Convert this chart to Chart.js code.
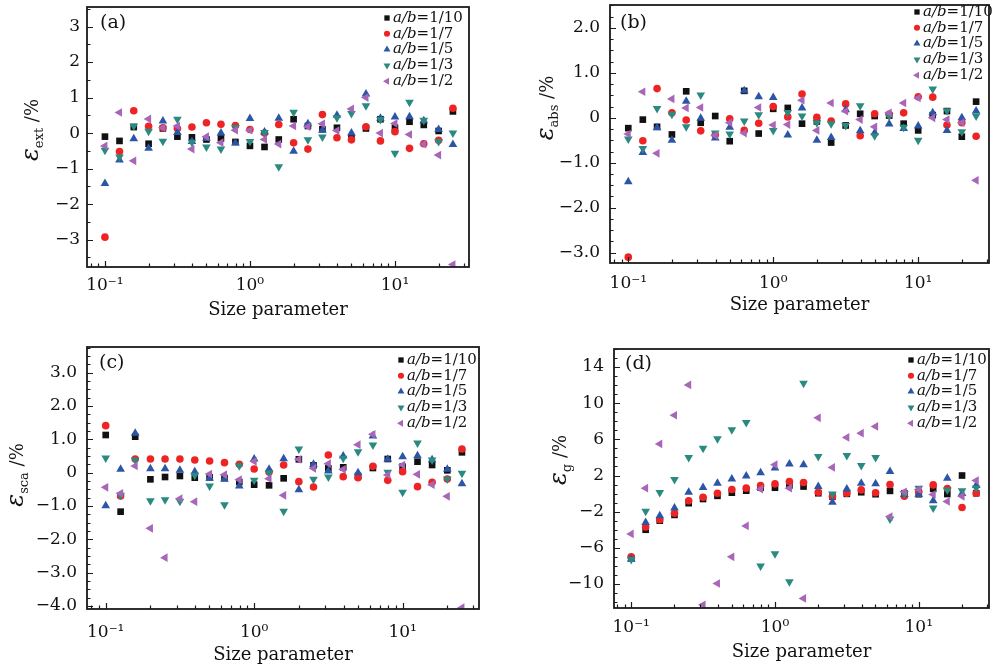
<!DOCTYPE html>
<html>
<head>
<meta charset="utf-8">
<script src="https://cdn.jsdelivr.net/npm/chart.js@4.4.0/dist/chart.umd.min.js"></script>
<style>
  body { margin: 0; background: #fff; width: 994px; height: 667px; position: relative; overflow: hidden; }
  canvas { position: absolute; }
</style>
</head>
<body>
<canvas id="chartA" width="497" height="330" style="left:0;top:0"></canvas>
<canvas id="chartB" width="497" height="330" style="left:497px;top:0"></canvas>
<canvas id="chartC" width="497" height="337" style="left:0;top:330px"></canvas>
<canvas id="chartD" width="497" height="337" style="left:497px;top:330px"></canvas>
<script>
// size parameter (x), same for every panel
const sizeParam = [0.1, 0.126, 0.158, 0.2, 0.251, 0.316, 0.398, 0.501, 0.631, 0.794, 1, 1.26, 1.58, 2, 2.51, 3.16, 3.98, 5.01, 6.31, 7.94, 10, 12.6, 15.8, 20, 25.1];
const ratioLabels = ['1/10', '1/7', '1/5', '1/3', '1/2'];

// (a) extinction error, %
const ext10 = [-0.10, -0.22, 0.17, -0.30, 0.13, -0.10, -0.12, -0.18, -0.15, -0.25, -0.36, -0.39, -0.18, 0.39, 0.20, 0.11, 0.15, -0.12, 0.13, 0.39, 0.15, 0.32, 0.23, 0.06, 0.61];
const ext7 = [-2.93, -0.52, 0.63, 0.19, 0.15, 0.13, 0.17, 0.29, 0.25, 0.21, 0.10, 0.0, 0.24, -0.27, -0.45, 0.52, -0.13, -0.19, 0.18, -0.22, 0.04, -0.43, -0.30, -0.20, 0.70];
const ext5 = [-1.42, -0.76, -0.16, -0.43, 0.34, 0.02, -0.24, -0.15, 0.0, -0.28, 0.41, 0.03, 0.42, -0.51, 0.26, 0.08, 0.50, 0.0, 1.10, 0.42, 0.45, 0.46, 0.35, 0.10, -0.32];
const ext3 = [-0.48, -0.67, 0.20, 0.05, -0.23, 0.39, -0.26, -0.39, -0.45, 0.16, -0.24, 0.02, -0.95, 0.59, -0.19, -0.11, 0.43, 0.55, 0.77, 0.38, -0.57, 0.87, 0.36, -0.24, 0.0];
const ext2 = [-0.36, 0.58, -0.78, 0.40, 0.15, 0.20, -0.45, -0.10, -0.27, 0.08, 0.08, -0.18, -0.31, 0.20, 0.18, 0.26, 0.07, 0.68, 1.0, 0.0, 0.27, -0.04, -0.31, -0.62, -3.70];

// (b) absorption error, %
const abs10 = [-0.23, -0.04, -0.20, -0.37, 0.59, -0.11, 0.04, -0.52, 0.60, -0.35, 0.20, 0.22, -0.13, -0.08, -0.55, -0.17, 0.09, 0.04, 0.05, -0.13, -0.28, 0.06, 0.15, -0.42, 0.36];
const abs7 = [-3.10, -0.51, 0.65, 0.11, -0.05, -0.29, -0.38, -0.02, -0.28, -0.12, 0.25, 0.02, 0.53, 0.01, -0.07, 0.31, -0.40, 0.09, 0.08, 0.11, 0.47, 0.46, -0.16, -0.11, -0.41];
const abs5 = [-1.42, -0.77, -0.22, -0.50, 0.37, -0.01, -0.45, -0.21, 0.60, 0.47, 0.45, -0.38, 0.22, -0.50, -0.44, 0.18, -0.29, -0.33, -0.14, -0.24, -0.18, 0.11, -0.28, 0.0, 0.15];
const abs3 = [-0.47, -0.68, 0.21, 0.08, -0.20, 0.51, -0.34, -0.36, -0.07, 0.07, -0.28, 0.12, 0.04, -0.11, -0.13, -0.17, 0.27, -0.40, 0.04, -0.21, -0.50, 0.64, 0.16, -0.31, 0.04];
const abs2 = [-0.36, 0.58, -0.79, 0.42, 0.22, 0.23, -0.39, -0.11, -0.34, 0.23, -0.16, -0.15, 0.39, -0.28, 0.33, 0.15, -0.04, -0.20, 0.11, 0.33, 0.44, 0.0, -0.04, -0.11, -1.39];

// (c) scattering error, %
const sca10 = [1.13, -1.17, 1.08, -0.20, -0.13, -0.10, -0.15, -0.14, -0.16, -0.28, -0.36, -0.38, -0.17, 0.40, 0.22, 0.13, 0.16, -0.10, 0.14, 0.41, 0.18, 0.33, 0.23, 0.07, 0.61];
const sca7 = [1.41, -0.70, 0.41, 0.41, 0.41, 0.41, 0.38, 0.35, 0.30, 0.25, 0.11, 0.02, 0.23, -0.27, -0.43, 0.53, -0.12, -0.15, 0.19, -0.23, 0.03, -0.42, -0.29, -0.19, 0.71];
const sca5 = [-0.99, 0.10, 1.18, 0.12, 0.12, 0.07, 0.03, -0.17, -0.20, -0.40, 0.41, 0.10, 0.42, -0.51, 0.25, 0.05, 0.50, 0.0, 1.10, 0.40, 0.48, 0.51, 0.39, 0.10, -0.33];
const sca3 = [0.44, -0.68, 0.38, -0.84, -0.81, -0.86, -0.08, -0.40, -0.96, 0.21, -0.23, 0.0, -1.16, 0.71, -0.20, -0.13, 0.43, 0.63, 0.83, 0.01, -0.59, 0.89, 0.38, -0.19, -0.02];
const sca2 = [-0.44, -0.62, 0.20, -1.67, -2.55, -0.78, -0.87, -0.04, -0.06, -0.21, 0.34, -0.18, -0.68, 0.40, 0.13, 0.27, 0.10, 0.84, 1.15, -0.07, 0.23, -0.05, -0.36, -0.71, -4.05];

// (d) asymmetry factor error, %
const asy10 = [-7.15, -4.0, -3.0, -2.36, -1.06, -0.6, -0.25, 0.1, 0.32, 0.65, 0.65, 0.9, 0.78, 0.04, -0.33, -0.03, 0.15, -0.07, 0.3, 0.04, -0.07, 0.52, -0.05, 2.0, 0.04];
const asy7 = [-7.0, -3.7, -2.9, -2.17, -0.8, -0.4, 0.04, 0.45, 0.6, 0.9, 1.08, 1.34, 1.23, 0.15, -0.3, 0.04, 0.41, 0.1, 1.0, -0.3, 0.23, 0.96, 0.55, -1.54, 0.04];
const asy5 = [-7.27, -3.2, -2.46, -1.6, 0.15, 0.67, 1.15, 1.62, 1.94, 2.3, 2.83, 3.28, 3.18, 0.78, -0.95, 0.52, 1.15, 1.08, 2.44, -0.1, -0.1, -0.8, 1.71, 0.0, 0.9];
const asy3 = [-7.3, -1.95, 0.12, 1.55, 4.0, 5.03, 6.06, 7.06, 7.87, -8.0, -6.65, -9.75, 12.2, 4.1, -0.05, 4.22, 3.12, 4.0, -2.8, 0.0, 0.6, -1.6, 0.41, 0.32, 0.63];
const asy2 = [-4.46, 0.6, 5.5, 8.67, 12.03, -12.3, -9.95, -7.0, -3.58, 0.49, 3.2, 0.6, -11.6, 8.38, 2.9, 6.22, 6.69, 7.43, -2.54, 0.2, 0.45, -0.1, -0.88, -0.3, 1.45];

// tick labels
const xTickValues = [0.1, 1, 10];
const xTickLabels = ['10\u207B\u00B9', '10\u2070', '10\u00B9'];
const yTicksA = [3, 2, 1, 0, -1, -2, -3];
const yTicksB = [2, 1, 0, -1, -2, -3];
const yTicksC = [3, 2, 1, 0, -1, -2, -3, -4];
const yTicksD = [14, 10, 6, 2, -2, -6, -10];

Chart.defaults.font.family = "'DejaVu Serif', serif";
Chart.defaults.color = '#111';

const colors = ['#111111', '#ee2424', '#2b56a8', '#2a8a80', '#a866b8'];
const shapes = ['rect', 'circle', 'triangle', 'triangle', 'triangle'];
const rotations = [0, 0, 0, 180, 270];
const radii = [4.7, 3.8, 5.0, 5.0, 5.0];

function fmt(v, dec) {
  if (v === 0) return '0';
  return (v < 0 ? '\u2212' : '') + Math.abs(v).toFixed(dec);
}

function drawMarker(ctx, k, x, y, r) {
  ctx.save();
  ctx.translate(x, y);
  ctx.rotate(rotations[k] * Math.PI / 180);
  ctx.fillStyle = colors[k];
  ctx.beginPath();
  if (shapes[k] === 'rect') {
    const s = r * Math.SQRT1_2;
    ctx.rect(-s, -s, 2 * s, 2 * s);
  } else if (shapes[k] === 'circle') {
    ctx.arc(0, 0, r, 0, Math.PI * 2);
  } else {
    ctx.moveTo(0, -r);
    ctx.lineTo(r * Math.sin(2 * Math.PI / 3), -r * Math.cos(2 * Math.PI / 3));
    ctx.lineTo(r * Math.sin(4 * Math.PI / 3), -r * Math.cos(4 * Math.PI / 3));
  }
  ctx.closePath();
  ctx.fill();
  ctx.restore();
}

// frame, inward ticks, panel tag, legend and y title with subscript
const decor = {
  id: 'decor',
  afterDatasetsDraw(chart, args, o) {
    const {ctx, chartArea: a} = chart;
    const xs = chart.scales.x, ys = chart.scales.y;
    ctx.save();
    ctx.strokeStyle = '#1a1a1a';
    ctx.lineWidth = 1.2;
    ctx.beginPath();
    for (let e = -2; e <= 2; e++) {
      for (let m = 1; m <= 9; m++) {
        const v = m * Math.pow(10, e);
        if (v < xs.min || v > xs.max) continue;
        const px = Math.round(xs.getPixelForValue(v)) + 0.5;
        ctx.moveTo(px, a.bottom);
        ctx.lineTo(px, a.bottom - (m === 1 ? 6 : 3.5));
      }
    }
    const k0 = Math.ceil(ys.min / o.yMinor - 1e-9), k1 = Math.floor(ys.max / o.yMinor + 1e-9);
    for (let k = k0; k <= k1; k++) {
      const v = k * o.yMinor;
      const major = o.yTicks.some(t => Math.abs(t - v) < 1e-6);
      const py = Math.round(ys.getPixelForValue(v)) + 0.5;
      ctx.moveTo(a.left, py);
      ctx.lineTo(a.left + (major ? 6 : 3.5), py);
    }
    ctx.stroke();
    ctx.lineWidth = 1.8;
    ctx.strokeRect(a.left, a.top, a.right - a.left, a.bottom - a.top);

    ctx.fillStyle = '#111';
    ctx.textBaseline = 'middle';
    ctx.textAlign = 'left';
    ctx.font = "19px 'DejaVu Serif'";
    ctx.fillText(o.tag, o.tagPos[0], o.tagPos[1]);

    // legend
    for (let k = 0; k < ratioLabels.length; k++) {
      const ly = o.legend[1] + k * 15.8;
      drawMarker(ctx, k, o.legend[0], ly, radii[k] * 0.8);
      ctx.fillStyle = '#111';
      let tx = o.legend[0] + 6;
      ctx.font = "italic 15px 'DejaVu Serif'";
      ctx.fillText('a/b', tx, ly);
      tx += ctx.measureText('a/b').width;
      ctx.font = "15px 'DejaVu Serif'";
      ctx.fillText('=' + ratioLabels[k], tx, ly);
    }

    // y axis title: epsilon with subscript, then /%
    ctx.translate(o.yTitle[0], o.yTitle[1]);
    ctx.rotate(-Math.PI / 2);
    ctx.textBaseline = 'alphabetic';
    const fEps = "italic 24px 'DejaVu Serif'", fSub = "13px 'DejaVu Serif'", fUnit = "18px 'DejaVu Serif'";
    ctx.font = fEps; const w1 = ctx.measureText('\u03B5').width;
    ctx.font = fSub; const w2 = ctx.measureText(o.sub).width;
    ctx.font = fUnit; const w3 = ctx.measureText(' /%').width;
    let tx = -(w1 + w2 + w3) / 2;
    ctx.font = fEps; ctx.fillText('\u03B5', tx, 6); tx += w1;
    ctx.font = fSub; ctx.fillText(o.sub, tx, 11); tx += w2;
    ctx.font = fUnit; ctx.fillText(' /%', tx, 6);
    ctx.restore();
  }
};

const panels = [
  {id: 'chartA', sub: 'ext', series: [ext10, ext7, ext5, ext3, ext2], xMin: 0.0752, xMax: 32.4, yMin: -3.77, yMax: 3.55,
   yTicks: yTicksA, yMinor: 0.5, dec: 0, pad: {left: 17, top: 7, right: 28, bottom: 3}, xH: 60, tickPadX: 8, titlePadX: 6,
   tickPadY: 7, yTitle: [32, 130], tag: '(a)', tagPos: [100, 23], legend: [387, 18]},
  {id: 'chartB', sub: 'abs', series: [abs10, abs7, abs5, abs3, abs2], xMin: 0.0748, xMax: 30.8, yMin: -3.23, yMax: 2.51,
   yTicks: yTicksB, yMinor: 0.25, dec: 1, pad: {left: 43, top: 3, right: 4, bottom: 7}, xH: 60, tickPadX: 10, titlePadX: 7,
   tickPadY: 10, yTitle: [50, 108], tag: '(b)', tagPos: [123, 23], legend: [420, 12]},
  {id: 'chartC', sub: 'sca', series: [sca10, sca7, sca5, sca3, sca2], xMin: 0.0748, xMax: 32.7, yMin: -4.09, yMax: 3.77,
   yTicks: yTicksC, yMinor: 0.25, dec: 1, pad: {left: 17, top: 17, right: 18, bottom: 0}, xH: 58, tickPadX: 13, titlePadX: 1,
   tickPadY: 10, yTitle: [17, 145], tag: '(c)', tagPos: [99, 33], legend: [401, 30]},
  {id: 'chartD', sub: 'g', series: [asy10, asy7, asy5, asy3, asy2], xMin: 0.0759, xMax: 30.8, yMin: -12.66, yMax: 16.0,
   yTicks: yTicksD, yMinor: 1, dec: 0, pad: {left: 47, top: 19, right: 4, bottom: 3}, xH: 56, tickPadX: 9, titlePadX: 1,
   tickPadY: 10, yTitle: [63, 130], tag: '(d)', tagPos: [128, 34], legend: [414, 30]}
];

panels.forEach(p => {
  new Chart(document.getElementById(p.id), {
    type: 'scatter',
    data: {
      datasets: p.series.map((vals, k) => ({
        label: 'a/b=' + ratioLabels[k],
        data: sizeParam.map((x, i) => ({x: x, y: vals[i]})),
        pointStyle: shapes[k],
        pointRotation: rotations[k],
        pointRadius: radii[k],
        backgroundColor: colors[k],
        borderColor: colors[k],
        pointBorderWidth: 0,
        borderWidth: 0,
        order: 4 - k,
        clip: 0
      }))
    },
    options: {
      responsive: false,
      animation: false,
      events: [],
      layout: {padding: p.pad},
      plugins: {
        legend: {display: false},
        tooltip: {enabled: false},
        decor: {sub: p.sub, yTicks: p.yTicks, yMinor: p.yMinor, tag: p.tag, tagPos: p.tagPos, legend: p.legend, yTitle: p.yTitle}
      },
      scales: {
        x: {
          type: 'logarithmic',
          min: p.xMin,
          max: p.xMax,
          grid: {display: false, drawTicks: false},
          border: {display: false},
          ticks: {
            font: {size: 17},
            padding: p.tickPadX,
            maxRotation: 0,
            autoSkip: false,
            callback: v => {
              const i = xTickValues.indexOf(v);
              return i >= 0 ? xTickLabels[i] : '';
            }
          },
          title: {display: true, text: 'Size parameter', font: {size: 18}, padding: {top: 0, bottom: p.titlePadX}},
          afterBuildTicks: s => { s.ticks = xTickValues.map(v => ({value: v})); },
          afterFit: s => { s.height = p.xH; s.paddingLeft = 0; s.paddingRight = 0; }
        },
        y: {
          type: 'linear',
          min: p.yMin,
          max: p.yMax,
          grid: {display: false, drawTicks: false},
          border: {display: false},
          ticks: {font: {size: 17}, padding: p.tickPadY, callback: v => fmt(v, p.dec)},
          afterBuildTicks: s => { s.ticks = p.yTicks.map(v => ({value: v})); },
          afterFit: s => { s.width = 70; s.paddingTop = 0; s.paddingBottom = 0; }
        }
      }
    },
    plugins: [decor]
  });
});
</script>
</body>
</html>
